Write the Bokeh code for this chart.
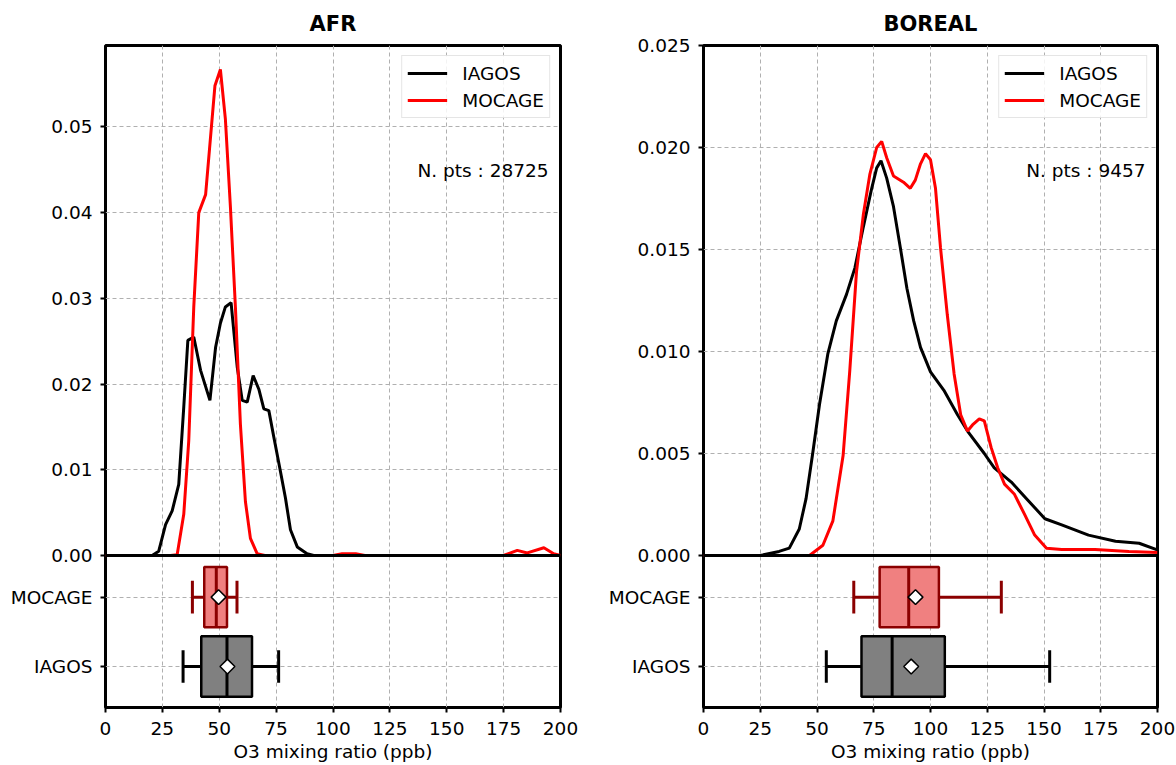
import math
from bokeh.plotting import figure
from bokeh.layouts import row
from bokeh.models import (Range1d, FixedTicker, Label, Span, Grid,
                          PrintfTickFormatter, ColumnDataSource)
from bokeh.embed import file_html
from bokeh.resources import INLINE

FONT = "DejaVu Sans"
X_TICKS = [0, 25, 50, 75, 100, 125, 150, 175, 200]
GROUPS = ["IAGOS", "MOCAGE"]          # y = 0, 1 in the box panel

# ---------------- AFR : density curves ----------------
afr_iagos_x = [0, 15, 20.5, 23.4, 26.4, 29.3, 32.2, 34.4, 36.2, 38.8, 41.8, 45.9, 48.4,
               50.5, 52.7, 55.2, 57.9, 60.1, 62.3, 64.9, 67.4, 69.6, 71.8, 74.0, 76.9,
               79.1, 81.3, 84.3, 88.6, 91.5, 200]
afr_iagos_y = [0, 0, 0.0, 0.0005, 0.0036, 0.0052, 0.0083, 0.0173, 0.0251, 0.0255, 0.0216,
               0.0181, 0.0243, 0.0271, 0.0290, 0.0295, 0.0220, 0.0181, 0.0179, 0.0210,
               0.0194, 0.0171, 0.0169, 0.0138, 0.0098, 0.0067, 0.0030, 0.0010, 0.0002, 0, 0]
afr_mocage_x = [0, 28.6, 31.5, 34.4, 36.6, 38.8, 41.0, 44.0, 48.1, 50.5, 52.7, 54.9, 57.1,
                59.3, 61.5, 63.7, 66.7, 70, 100, 104, 110, 114, 175, 181, 185.4, 192.7,
                197, 200]
afr_mocage_y = [0, 0, 0.0001, 0.0048, 0.0134, 0.0290, 0.0400, 0.0421, 0.0548, 0.0567,
                0.0509, 0.0407, 0.0290, 0.0153, 0.0063, 0.0020, 0.0002, 0, 0, 0.0002,
                0.0002, 0, 0, 0.0006, 0.0003, 0.0009, 0.0002, 0]
afr_npts = 28725

# ---------------- BOREAL : density curves ----------------
bor_iagos_x = [0, 25, 33.3, 37.8, 42.2, 45.2, 48.1, 51.1, 54.8, 58.5, 63.0, 66.7, 70.4,
               74.1, 76.3, 78.2, 80.7, 83.7, 86.7, 89.6, 92.6, 95.6, 100, 105.9, 111.9,
               116.3, 123.7, 128.1, 135.6, 143.0, 150.4, 157.8, 169.6, 181.5, 191.9, 199.3, 200]
bor_iagos_y = [0, 0, 0.0002, 0.00036, 0.0013, 0.0028, 0.0050, 0.0074, 0.0099, 0.0115,
               0.0128, 0.0141, 0.0161, 0.0180, 0.0190, 0.01935, 0.0185, 0.0171, 0.0151,
               0.0131, 0.0115, 0.0102, 0.0090, 0.0081, 0.0069, 0.0061, 0.0050, 0.0043,
               0.0036, 0.0027, 0.0018, 0.0015, 0.0010, 0.0007, 0.0006, 0.0003, 0.0003]
bor_mocage_x = [0, 46.7, 52.6, 57.0, 61.5, 64.4, 67.4, 70.4, 73.3, 76.3, 78.5, 80.7, 83.7,
                88.1, 91.1, 93.3, 95.6, 97.8, 100, 102.2, 104.4, 107.4, 110.4, 113.3,
                116.3, 118.5, 121.5, 123.7, 126.7, 129.6, 132.6, 137.0, 141.5, 145.9,
                151.1, 157.8, 172.5, 187.4, 200]
bor_mocage_y = [0, 0, 0.0005, 0.0017, 0.0049, 0.0090, 0.0139, 0.0167, 0.0187, 0.0200,
                0.0203, 0.0195, 0.0186, 0.0183, 0.0180, 0.0184, 0.0192, 0.0197, 0.0194,
                0.0180, 0.0151, 0.0118, 0.0089, 0.0069, 0.0061, 0.0064, 0.0067, 0.0066,
                0.0053, 0.0043, 0.0035, 0.0030, 0.0020, 0.0010, 0.00036, 0.0003, 0.0003,
                0.0002, 0.00015]
bor_npts = 9457

# ---------------- box-plot statistics (order: IAGOS, MOCAGE) ----------------
afr_whislo = [34.1, 38.2]
afr_q1 = [42.1, 43.4]
afr_med = [53.4, 48.7]
afr_q3 = [64.4, 53.4]
afr_whishi = [76.1, 57.8]
afr_mean = [53.6, 49.7]

bor_whislo = [54.1, 66.2]
bor_q1 = [69.6, 77.6]
bor_med = [83.1, 90.4]
bor_q3 = [106.3, 103.7]
bor_whishi = [152.5, 131.2]
bor_mean = [91.5, 93.4]

BOX_FILL = ["#808080", "#f08080"]
BOX_EDGE = ["#000000", "#8b0000"]
LINE_COL = {"IAGOS": "#000000", "MOCAGE": "#ff0000"}

# layout (pixels)
TOP_PX, BOX_PX = 510, 152           # heights of the density and box parts of a frame
BOX_LO, BOX_HI = -0.59, 1.6         # visible box-panel category range
FS = "18.5px"


def style_axis(ax):
    ax.major_label_text_font = FONT
    ax.major_label_text_font_size = FS
    ax.major_label_text_color = "black"
    ax.axis_label_text_font = FONT
    ax.axis_label_text_font_size = FS
    ax.axis_label_text_font_style = "normal"
    ax.axis_label_text_color = "black"
    ax.axis_line_color = None
    ax.major_tick_line_color = "black"
    ax.major_tick_line_width = 2
    ax.major_tick_out = 5
    ax.major_tick_in = 0
    ax.minor_tick_line_color = None


def grid_style(g):
    g.grid_line_color = "#b0b0b0"
    g.grid_line_width = 1
    g.grid_line_dash = "4 3"


def panel(title, width, mleft, mright, ymax, yticks, yfmt,
          ix, iy, mx, my, npts, whislo, q1, med, q3, whishi, mean):
    total_px = TOP_PX + BOX_PX
    dens_start = -ymax * BOX_PX / TOP_PX
    box_end = BOX_LO + (BOX_HI - BOX_LO) * total_px / BOX_PX

    p = figure(width=width, height=765, x_range=Range1d(0, 200),
               y_range=Range1d(dens_start, ymax),
               output_backend="svg", toolbar_location=None,
               min_border_left=mleft, min_border_right=mright,
               min_border_top=45, min_border_bottom=58, title=title)
    p.extra_y_ranges = {"box": Range1d(BOX_LO, box_end)}

    p.title.align = "center"
    p.title.text_font = FONT
    p.title.text_font_size = "21px"
    p.title.text_font_style = "bold"
    p.title.text_color = "black"
    p.title.standoff = 19
    p.outline_line_color = "black"
    p.outline_line_width = 3
    p.outline_line_alpha = 1

    # x axis
    style_axis(p.xaxis[0])
    p.xaxis.ticker = FixedTicker(ticks=X_TICKS)
    p.xaxis.axis_label = "O3 mixing ratio (ppb)"
    p.xaxis.major_label_standoff = 9
    p.xaxis.axis_label_standoff = 3
    for g in p.xgrid:
        grid_style(g)
        g.ticker = FixedTicker(ticks=X_TICKS)

    # y axis : density ticks + box category ticks (mapped into density units)
    def box_to_dens(b):
        frac = (b - BOX_LO) / (box_end - BOX_LO)
        return dens_start + frac * (ymax - dens_start)

    cat_pos = [box_to_dens(i) for i in range(len(GROUPS))]
    style_axis(p.yaxis[0])
    p.yaxis.ticker = FixedTicker(ticks=list(yticks) + cat_pos)
    p.yaxis.formatter = PrintfTickFormatter(format=yfmt)
    p.yaxis.major_label_overrides = {cat_pos[i]: GROUPS[i] for i in range(len(GROUPS))}
    p.yaxis.major_label_standoff = 8
    for g in p.ygrid:
        grid_style(g)
        g.ticker = FixedTicker(ticks=list(yticks))
    bg = Grid(dimension=1, ticker=FixedTicker(ticks=list(range(len(GROUPS)))),
              y_range_name="box")
    grid_style(bg)
    p.add_layout(bg)

    # density curves
    p.line(ix, iy, line_color=LINE_COL["IAGOS"], line_width=3, legend_label="IAGOS")
    p.line(mx, my, line_color=LINE_COL["MOCAGE"], line_width=3, legend_label="MOCAGE")
    p.add_layout(Span(location=0, dimension="width", line_color="black",
                      line_width=3, level="overlay"))

    lg = p.legend[0]
    lg.location = "top_right"
    lg.margin = 10
    lg.label_text_font = FONT
    lg.label_text_font_size = FS
    lg.label_text_color = "black"
    lg.glyph_width = 40
    lg.glyph_height = 24
    lg.label_height = 24
    lg.label_standoff = 15
    lg.spacing = 3
    lg.padding = 5
    lg.border_line_color = "#cccccc"
    lg.border_line_width = 1
    lg.background_fill_alpha = 0.85

    p.add_layout(Label(x=200, y=ymax * 0.755, x_offset=-12, text=f"N. pts : {npts}",
                       text_align="right", text_baseline="middle",
                       text_font=FONT, text_font_size=FS,
                       text_color="black"))

    # box plots
    ys = list(range(len(GROUPS)))
    hb, hc = 0.435, 0.235
    src = ColumnDataSource(dict(
        y=ys, lo=whislo, q1=q1, med=med, q3=q3, hi=whishi, mean=mean,
        fill=BOX_FILL, edge=BOX_EDGE,
        yb0=[v - hb for v in ys], yb1=[v + hb for v in ys],
        yc0=[v - hc for v in ys], yc1=[v + hc for v in ys]))
    kw = dict(source=src, y_range_name="box")
    p.segment(x0="lo", y0="y", x1="q1", y1="y", line_color="edge", line_width=3, **kw)
    p.segment(x0="q3", y0="y", x1="hi", y1="y", line_color="edge", line_width=3, **kw)
    p.segment(x0="lo", y0="yc0", x1="lo", y1="yc1", line_color="edge", line_width=3, **kw)
    p.segment(x0="hi", y0="yc0", x1="hi", y1="yc1", line_color="edge", line_width=3, **kw)
    p.hbar(y="y", left="q1", right="q3", height=2 * hb,
           fill_color="fill", line_color="edge", line_width=2.5, **kw)
    p.segment(x0="med", y0="yb0", x1="med", y1="yb1", line_color="edge", line_width=3, **kw)
    p.scatter(x="mean", y="y", marker="square", angle=math.pi / 4, size=10.5,
              fill_color="white", line_color="black", line_width=1.5, **kw)
    return p


left = panel("AFR", 600, 105, 40, 0.0595, [0, 0.01, 0.02, 0.03, 0.04, 0.05], "%.2f",
             afr_iagos_x, afr_iagos_y, afr_mocage_x, afr_mocage_y, afr_npts,
             afr_whislo, afr_q1, afr_med, afr_q3, afr_whishi, afr_mean)
right = panel("BOREAL", 576, 103, 19, 0.025, [0, 0.005, 0.01, 0.015, 0.02, 0.025], "%.3f",
              bor_iagos_x, bor_iagos_y, bor_mocage_x, bor_mocage_y, bor_npts,
              bor_whislo, bor_q1, bor_med, bor_q3, bor_whishi, bor_mean)

p = row(left, right, spacing=0)
open("out.html", "w").write(file_html(p, INLINE))
